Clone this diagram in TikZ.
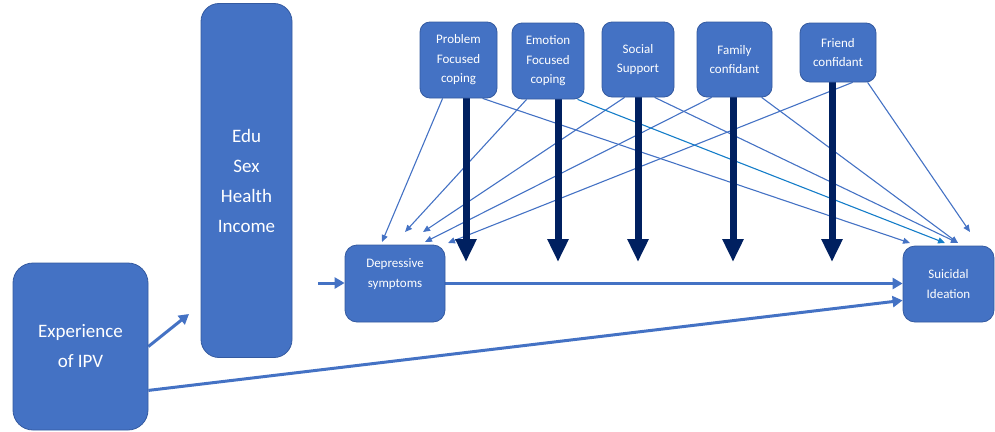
\documentclass[tikz,border=0pt]{standalone}
\usepackage{fontspec}
\setmainfont{Carlito}
\usetikzlibrary{arrows.meta,calc,backgrounds}
\definecolor{boxblue}{RGB}{68,114,196}
\definecolor{boxedge}{RGB}{52,90,160}
\definecolor{navyarrow}{RGB}{0,32,96}
\definecolor{linkblue}{RGB}{20,125,200}
\begin{document}
\begin{tikzpicture}[x=1pt,y=-1pt,
  box/.style={draw=boxedge, line width=0.8pt, fill=boxblue, text=white,
              rounded corners=#1, align=center, inner sep=0pt},
  box/.default=10pt,
  bigtxt/.style={font=\fontsize{19}{30}\selectfont},
  smalltxt/.style={font=\fontsize{13}{19.5}\selectfont},
  lbl/.style={text=white, align=center, inner sep=0pt},
  thinlink/.style={draw=boxblue, line width=1.1pt, -{Triangle[length=7pt,width=6pt]}},
  midlink/.style={draw=boxblue, line width=3pt, -{Triangle[length=10pt,width=11pt]}},
  bigarrow/.style={draw=navyarrow, line width=7pt, -{Triangle[length=23pt,width=20pt]}}]
\useasboundingbox (0,0) rectangle (995,431);

% main boxes
\node[box=20pt, bigtxt, minimum width=135pt, minimum height=167pt] (ipv) at (80.5,346.5) {Experience\\of IPV};
\node[box=18pt, bigtxt, minimum width=91pt, minimum height=354pt] (edu) at (246.5,180.5) {Edu\\Sex\\Health\\Income};
\node[box=12pt, minimum width=100pt, minimum height=77pt] (dep) at (395,283.5) {};
\node[lbl, smalltxt] (deptxt) at (395,274) {Depressive\\symptoms};
\node[box=12pt, smalltxt, minimum width=91pt, minimum height=76pt] (sui) at (948.5,284) {Suicidal\\Ideation};

% moderator boxes
\node[box, smalltxt, minimum width=77pt, minimum height=76pt] (pfc) at (458.5,60) {Problem\\Focused\\coping};
\node[box, smalltxt, minimum width=72pt, minimum height=76pt] (efc) at (548,61) {Emotion\\Focused\\coping};
\node[box, smalltxt, minimum width=72pt, minimum height=75pt] (ss) at (638,59.5) {Social\\Support};
\node[box, smalltxt, minimum width=75pt, minimum height=75pt] (fam) at (734.5,59.5) {Family\\confidant};
\node[box, smalltxt, minimum width=76pt, minimum height=59pt] (fri) at (838,52.5) {Friend\\confidant};

% arrow tips that stop short of a box
\coordinate (dP) at (382,242);
\coordinate (dE) at (405,232);
\coordinate (dS) at (423,232);
\coordinate (dF) at (425,242);
\coordinate (dR) at (448,243);
\coordinate (sP) at (910,243);
\coordinate (sE) at (945,243);
\coordinate (sSF) at (958,243);
\coordinate (sR) at (970,232);
\coordinate (tP) at (466,262);
\coordinate (tE) at (558,262);
\coordinate (tS) at (638,262);
\coordinate (tF) at (733,262);
\coordinate (tR) at (832,262);
\coordinate (inS) at (318,283);
\coordinate (eduTip) at (189,314);

\begin{scope}[on background layer]
  % moderator links to depressive symptoms
  \draw[thinlink] ($(pfc.south west)+(23,0)$) -- (dP);
  \draw[thinlink] ($(efc.south west)+(15,0)$) -- (dE);
  \draw[thinlink] ($(ss.south west)+(23,0)$) -- (dS);
  \draw[thinlink] ($(fam.south west)+(15,0)$) -- (dF);
  \draw[thinlink] ($(fri.south west)+(53,0)$) -- (dR);
  % moderator links to suicidal ideation
  \draw[thinlink] ($(pfc.south west)+(63,0)$) -- (sP);
  \draw[thinlink, draw=linkblue] ($(efc.south west)+(66,0)$) -- (sE);
  \draw[thinlink] ($(ss.south west)+(53,0)$) -- (sSF);
  \draw[thinlink] ($(fam.south west)+(65,0)$) -- (sSF);
  \draw[thinlink] ($(fri.south west)+(68,0)$) -- (sR);
  % moderating effects on the main path
  \draw[bigarrow] (pfc.south -| tP) -- (tP);
  \draw[bigarrow] (efc.south -| tE) -- (tE);
  \draw[bigarrow] (ss.south -| tS) -- (tS);
  \draw[bigarrow] (fam.south -| tF) -- (tF);
  \draw[bigarrow] ([yshift=3pt]fri.south -| tR) -- (tR);
  % main paths
  \draw[midlink] (inS) -- (dep.west |- inS);
  \draw[midlink] (dep.east) -- (dep.east -| sui.west);
  \draw[midlink] (ipv.east) -- (eduTip);
  \draw[midlink] ($(ipv.south east)+(0,-40)$) -- ($(sui.south west)+(0,-22)$);
\end{scope}
\end{tikzpicture}
\end{document}
